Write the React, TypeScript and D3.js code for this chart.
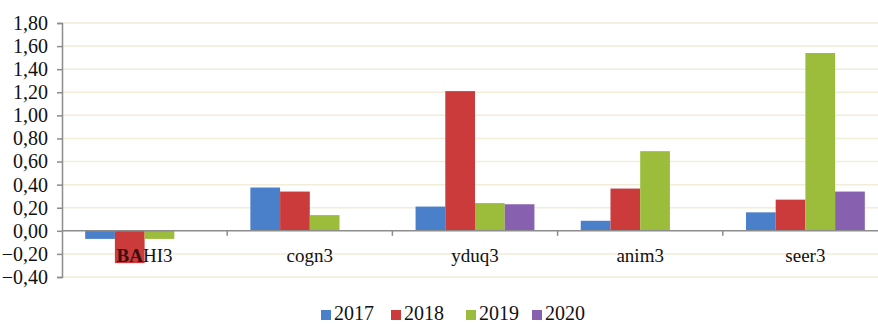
import { useEffect, useRef } from 'react';
import * as d3 from 'd3';

// values
const categories = ['BAHI3', 'cogn3', 'yduq3', 'anim3', 'seer3'];
const years = ['2017', '2018', '2019', '2020'];
const v2017 = [-0.07, 0.375, 0.21, 0.087, 0.16];
const v2018 = [-0.28, 0.34, 1.21, 0.366, 0.27];
const v2019 = [-0.07, 0.136, 0.24, 0.69, 1.54];
const v2020 = [0, 0, 0.23, 0, 0.34];
const yTicks = [-0.4, -0.2, 0, 0.2, 0.4, 0.6, 0.8, 1.0, 1.2, 1.4, 1.6, 1.8];

const series = [v2017, v2018, v2019, v2020];
const colors = ['#4a7fc9', '#cb3b3b', '#9cbc3c', '#8760b0'];

export default function App() {
  const svgRef = useRef<SVGSVGElement>(null);

  useEffect(() => {
    if (!svgRef.current) return;
    const svg = d3.select(svgRef.current);
    svg.selectAll('*').remove();

    const width = 878;
    const height = 324;
    const left = 62;
    const right = 888; // plot runs past the window edge, as in the picture
    const font = 'Liberation Serif, DejaVu Serif, serif';

    const x0 = d3.scaleBand().domain(categories).range([left, right]).paddingInner(0).paddingOuter(0);
    const x1 = d3.scaleBand().domain(years).range([0, x0.bandwidth()]).paddingOuter(0.78).paddingInner(0);
    const y = d3.scaleLinear().domain([-0.4, 1.8]).range([277, 23]);

    svg.attr('width', width).attr('height', height).style('font-family', font);

    // gridlines
    svg.append('g')
      .selectAll('line')
      .data(yTicks.filter((t) => t !== 0))
      .enter().append('line')
      .attr('x1', left)
      .attr('x2', right)
      .attr('y1', (d) => y(d))
      .attr('y2', (d) => y(d))
      .attr('stroke', '#f1edd8')
      .attr('stroke-width', 1.5);

    // bars
    const rows = categories.flatMap((c, i) =>
      years.map((yr, j) => ({ cat: c, year: yr, value: series[j][i], color: colors[j] })),
    ).filter((d) => d.value !== 0);

    svg.append('g')
      .selectAll('rect')
      .data(rows)
      .enter().append('rect')
      .attr('x', (d) => (x0(d.cat) ?? 0) + (x1(d.year) ?? 0))
      .attr('y', (d) => y(Math.max(0, d.value)))
      .attr('width', x1.bandwidth())
      .attr('height', (d) => Math.abs(y(d.value) - y(0)))
      .attr('fill', (d) => d.color);

    // y axis
    const yAxis = svg.append('g')
      .attr('transform', `translate(${left},0)`)
      .call(d3.axisLeft(y).tickValues(yTicks).tickSize(5).tickPadding(9)
        .tickFormat((v) => d3.format('.2f')(v as number).replace('.', ',')));
    yAxis.attr('font-family', null).attr('font-size', null);
    yAxis.select('.domain').attr('stroke', '#8c8c8c').attr('stroke-width', 1.5);
    yAxis.selectAll('line').attr('stroke', '#8c8c8c').attr('stroke-width', 1.5);
    yAxis.selectAll('text')
      .attr('fill', '#111')
      .style('font-family', font)
      .style('font-size', '20px');

    // zero line with category ticks
    svg.append('line')
      .attr('x1', left).attr('x2', right)
      .attr('y1', y(0)).attr('y2', y(0))
      .attr('stroke', '#8c8c8c').attr('stroke-width', 1.5);
    svg.append('g')
      .selectAll('line')
      .data(categories.slice(1))
      .enter().append('line')
      .attr('x1', (d) => x0(d) ?? 0)
      .attr('x2', (d) => x0(d) ?? 0)
      .attr('y1', y(0))
      .attr('y2', y(0) + 5)
      .attr('stroke', '#8c8c8c').attr('stroke-width', 1.5);

    // category labels
    const labels = svg.append('g')
      .selectAll('text')
      .data(categories)
      .enter().append('text')
      .attr('x', (d) => (x0(d) ?? 0) + x0.bandwidth() / 2)
      .attr('y', 262)
      .attr('text-anchor', 'middle')
      .style('font-family', font)
      .style('font-size', '19px')
      .attr('fill', '#111');
    labels.each(function (d) {
      const t = d3.select(this);
      if (d === 'BAHI3') {
        t.append('tspan').attr('font-weight', 'bold').attr('fill', '#3a1010').text('BA');
        t.append('tspan').text('HI3');
      } else {
        t.text(d);
      }
    });

    // legend
    const legendX = [321, 391, 466, 532];
    const lg = svg.append('g')
      .selectAll('g')
      .data(years)
      .enter().append('g')
      .attr('transform', (_, i) => `translate(${legendX[i]},0)`);
    lg.append('rect')
      .attr('x', 0).attr('y', 310)
      .attr('width', 10).attr('height', 10)
      .attr('fill', (_, i) => colors[i]);
    lg.append('text')
      .attr('x', 13).attr('y', 320)
      .style('font-family', font)
      .style('font-size', '20px')
      .attr('fill', '#111')
      .text((d) => d);
  }, []);

  return (
    <svg
      ref={svgRef}
      style={{ position: 'absolute', left: 0, top: 0, display: 'block', background: '#fff' }}
    />
  );
}
